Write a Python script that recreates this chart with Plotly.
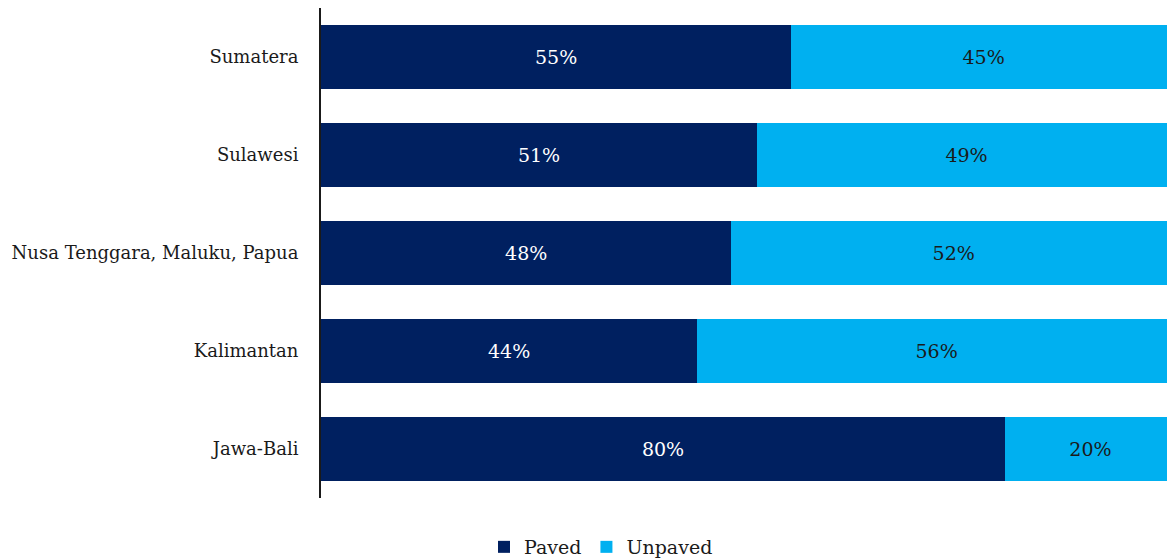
import plotly.graph_objects as go

regions = ["Sumatera", "Sulawesi", "Nusa Tenggara, Maluku, Papua", "Kalimantan", "Jawa-Bali"]
paved = [0.55, 0.51, 0.48, 0.44, 0.80]
unpaved = [0.45, 0.49, 0.52, 0.56, 0.20]

font_family = "DejaVu Serif"

fig = go.Figure()
fig.add_trace(go.Bar(
    y=regions, x=paved, orientation="h", name="Paved",
    marker=dict(color="#002060", line=dict(width=0)),
    text=[f"{v:.0%}" for v in paved], textposition="inside",
    insidetextanchor="middle", textfont=dict(color="white", size=19, family=font_family),
    hoverinfo="skip",
))
fig.add_trace(go.Bar(
    y=regions, x=unpaved, orientation="h", name="Unpaved",
    marker=dict(color="#00B0F0", line=dict(width=0)),
    text=[f"{v:.0%}" for v in unpaved], textposition="inside",
    insidetextanchor="middle", textfont=dict(color="#1a1a1a", size=19, family=font_family),
    hoverinfo="skip",
))

fig.update_layout(
    barmode="stack",
    bargap=0.34,
    width=1167, height=559,
    margin=dict(l=321, r=0, t=8, b=61, autoexpand=False),
    paper_bgcolor="white", plot_bgcolor="white",
    font=dict(family=font_family, size=19, color="#1a1a1a"),
    uniformtext=dict(minsize=19, mode="show"),
    showlegend=True,
    legend=dict(orientation="h", x=0.331, xanchor="center", y=-0.1, yanchor="middle",
                font=dict(size=19, family=font_family), traceorder="normal", itemwidth=30),
    xaxis=dict(range=[0, 0.9895], visible=False, fixedrange=True),
    yaxis=dict(categoryorder="array", categoryarray=regions[::-1],
               showline=True, linecolor="#1a1a1a", linewidth=2,
               ticks="outside", ticklen=17, tickcolor="rgba(0,0,0,0)",
               tickfont=dict(size=18, family=font_family),
               showgrid=False, fixedrange=True),
)

fig.write_html("out.html")
